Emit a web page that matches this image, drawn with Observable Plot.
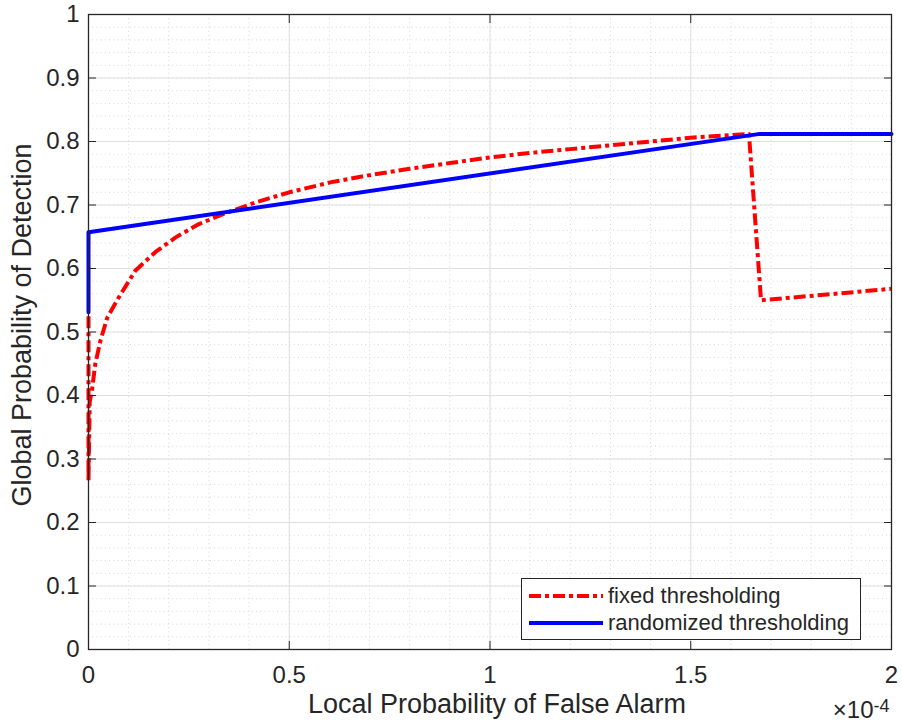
<!DOCTYPE html>
<html>
<head>
<meta charset="utf-8">
<script src="https://cdn.jsdelivr.net/npm/d3@7"></script>
<script src="https://cdn.jsdelivr.net/npm/@observablehq/plot@0.6"></script>
<style>
  body { margin: 0; background: #fff; }
  #wrap { position: relative; width: 902px; height: 724px; font-family: "Liberation Sans", Arial, Helvetica, sans-serif; color: #262626; }
  #legend { position: absolute; left: 521px; top: 578px; width: 340px; height: 62px; border: 1px solid #262626; background: #fff; box-sizing: border-box; }
  .lrow { position: absolute; left: 0; height: 26px; display: flex; align-items: center; font-size: 22px; color: #262626; white-space: nowrap; }
  .lrow svg { margin-left: 7px; margin-right: 5px; }
</style>
</head>
<body>
<div id="wrap"></div>
<script>
// ---- data (x in units of 1e-4) ----
const xLabel = "Local Probability of False Alarm";
const yLabel = "Global Probability of Detection";
const xExponentBase = "×10";
const xExponent = "-4";
const xTicks = [0, 0.5, 1, 1.5, 2];
const yTicks = [0, 0.1, 0.2, 0.3, 0.4, 0.5, 0.6, 0.7, 0.8, 0.9, 1];
const seriesNames = ["fixed thresholding", "randomized thresholding"];

const fixedX = [0, 0, 0.003, 0.009, 0.017, 0.03, 0.047, 0.076, 0.117, 0.167, 0.217, 0.275, 0.341, 0.416, 0.5, 0.605, 0.7, 0.8, 0.9, 1.0, 1.1, 1.2, 1.3, 1.4, 1.5, 1.645, 1.675, 2];
const fixedY = [0.525, 0.265, 0.39, 0.41, 0.45, 0.487, 0.523, 0.555, 0.597, 0.626, 0.649, 0.670, 0.687, 0.704, 0.720, 0.736, 0.747, 0.757, 0.766, 0.775, 0.782, 0.788, 0.794, 0.800, 0.806, 0.812, 0.550, 0.568];

const randX = [0, 0, 1.672, 2];
const randY = [0.531, 0.657, 0.812, 0.812];

// ---- build tables ----
const fixed = fixedX.map((x, i) => ({x, y: fixedY[i]}));
const rand = randX.map((x, i) => ({x, y: randY[i]}));
const xMinor = d3.range(0, 21).map(i => i / 10);
const yMinor = d3.range(0, 51).map(i => i / 50);

const colors = ["#ff0000", "#0000ff"];
const dashes = ["12,4,4,4", null];

const font = '"Liberation Sans", Arial, Helvetica, sans-serif';

const chart = Plot.plot({
  width: 902,
  height: 724,
  marginLeft: 88,
  marginRight: 11,
  marginTop: 14,
  marginBottom: 75,
  style: { fontFamily: font, fontSize: "24px", color: "#262626", background: "#fff" },
  x: { domain: [0, 2] },
  y: { domain: [0, 1] },
  marks: [
    Plot.gridX(xMinor, { stroke: "#d6d6d6", strokeOpacity: 1, strokeDasharray: "1,3.2" }),
    Plot.gridY(yMinor, { stroke: "#d6d6d6", strokeOpacity: 1, strokeDasharray: "1,3.2" }),
    Plot.gridX(xTicks, { stroke: "#e0e0e0", strokeOpacity: 1 }),
    Plot.gridY(yTicks, { stroke: "#e0e0e0", strokeOpacity: 1 }),
    Plot.line(fixed, { x: "x", y: "y", stroke: colors[0], strokeWidth: 4, strokeDasharray: dashes[0], strokeLinecap: "butt", strokeLinejoin: "round" }),
    Plot.line(rand, { x: "x", y: "y", stroke: colors[1], strokeWidth: 4, strokeLinejoin: "round" }),
    Plot.frame({ stroke: "#262626", strokeWidth: 1.3 }),
    Plot.axisX(xTicks, { anchor: "bottom", tickSize: -8, tickPadding: 24, tickFormat: d => String(d), fontSize: 24, label: null }),
    Plot.axisX(xTicks, { anchor: "top", tickSize: -8, tickFormat: () => "", label: null }),
    Plot.axisY(yTicks, { anchor: "left", tickSize: -8, tickPadding: 17, tickFormat: d => String(d), fontSize: 24, label: null }),
    Plot.axisY(yTicks, { anchor: "right", tickSize: -8, tickFormat: () => "", label: null }),
    Plot.text([xLabel], { text: d => d, frameAnchor: "bottom", textAnchor: "middle", lineAnchor: "top", dx: 7, dy: 44, fontSize: 27, fill: "#262626" }),
    Plot.text([yLabel], { text: d => d, frameAnchor: "left", textAnchor: "middle", rotate: -90, lineAnchor: "top", dx: -77, dy: -7, fontSize: 27, fill: "#262626" }),
    Plot.text([xExponentBase], { text: d => d, frameAnchor: "bottom-right", textAnchor: "end", lineAnchor: "bottom", dx: -18, dy: 68, fontSize: 24, fill: "#262626" }),
    Plot.text([xExponent], { text: d => d, frameAnchor: "bottom-right", textAnchor: "start", lineAnchor: "bottom", dx: -18, dy: 62, fontSize: 18, fill: "#262626" })
  ]
});

const wrap = document.getElementById("wrap");
wrap.appendChild(chart);

// legend overlay
const legend = document.createElement("div");
legend.id = "legend";
seriesNames.forEach((name, i) => {
  const row = document.createElement("div");
  row.className = "lrow";
  row.style.top = (4 + i * 27) + "px";
  const svg = d3.create("svg").attr("width", 74).attr("height", 10);
  svg.append("line").attr("x1", 0).attr("x2", 74).attr("y1", 5).attr("y2", 5)
    .attr("stroke", colors[i]).attr("stroke-width", 4)
    .attr("stroke-dasharray", dashes[i]);
  row.appendChild(svg.node());
  const span = document.createElement("span");
  span.textContent = name;
  row.appendChild(span);
  legend.appendChild(row);
});
wrap.appendChild(legend);
</script>
</body>
</html>
